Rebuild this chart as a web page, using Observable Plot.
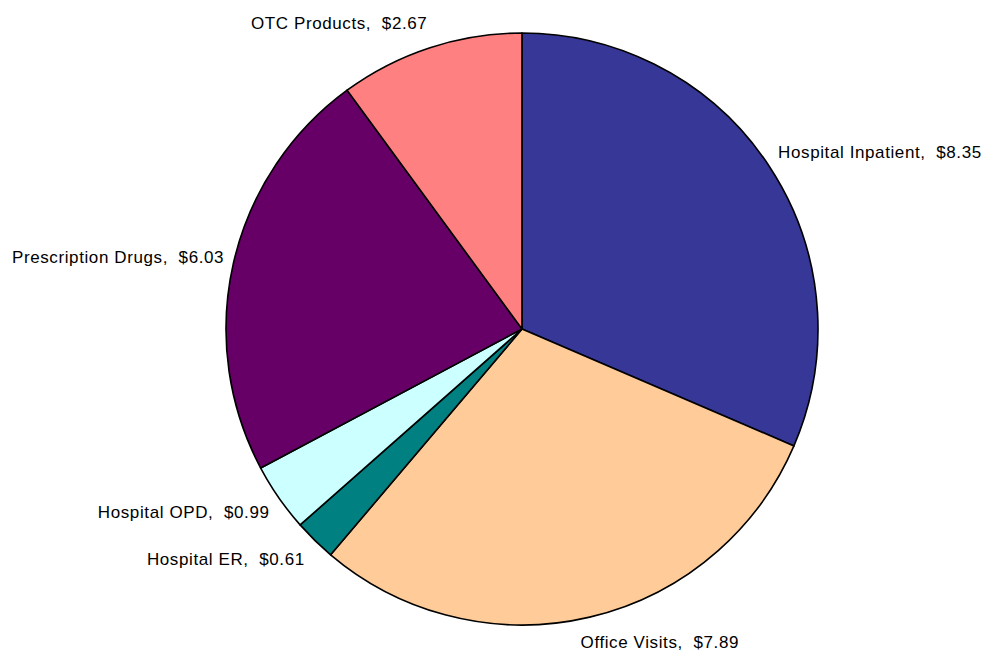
<!DOCTYPE html>
<html>
<head>
<meta charset="utf-8">
<script src="https://cdn.jsdelivr.net/npm/d3@7"></script>
<script src="https://cdn.jsdelivr.net/npm/@observablehq/plot@0.6"></script>
<style>
  html, body { margin: 0; padding: 0; background: #fff; }
  #chart svg text { letter-spacing: 0.6px; }
</style>
</head>
<body>
<div id="chart"></div>
<script>
const categories = ["Hospital Inpatient", "Office Visits", "Hospital ER", "Hospital OPD", "Prescription Drugs", "OTC Products"];
const values = [8.35, 7.89, 0.61, 0.99, 6.03, 2.67];
const colors = ["#373797", "#FFCC99", "#008080", "#CCFFFF", "#660066", "#FF8080"];

const W = 985, H = 651;
const cx = 522, cy = 329, R = 296;

const pieGen = d3.pie().sort(null).value(d => d.value);
const data = categories.map((c, i) => ({category: c, value: values[i], color: colors[i]}));
const arcs = pieGen(data);
const slices = arcs.map(a => {
  const mid = (a.startAngle + a.endAngle) / 2;
  const s = Math.sin(mid), c = Math.cos(mid);
  return {
    ...a,
    label: `${a.data.category},\u00a0\u00a0$${a.data.value.toFixed(2)}`,
    lx: 1.034 * s - 0.045 * Math.pow(Math.max(0, -c), 4),
    ly: 1.088 * c,
    anchor: s >= 0 ? "start" : "end"
  };
});

const pieMark = (index, scales) => {
  const x0 = scales.x(0), y0 = scales.y(0);
  const r = scales.x(1) - scales.x(0);
  const arcGen = d3.arc().innerRadius(0).outerRadius(r);
  const g = d3.create("svg:g").attr("transform", `translate(${x0},${y0})`);
  g.selectAll("path").data(slices).join("path")
    .attr("d", d => arcGen(d))
    .attr("fill", d => d.data.color)
    .attr("stroke", "#000")
    .attr("stroke-width", 1.6)
    .attr("stroke-linejoin", "round");
  return g.node();
};

const plot = Plot.plot({
  width: W,
  height: H,
  margin: 0,
  x: {domain: [-cx / R, (W - cx) / R], axis: null},
  y: {domain: [-(H - cy) / R, cy / R], axis: null},
  style: {fontFamily: "Liberation Sans, Arial, sans-serif", background: "#fff"},
  marks: [
    pieMark,
    Plot.text(slices.filter(d => d.anchor === "start"), {x: "lx", y: "ly", text: "label", textAnchor: "start", fontSize: 17, fill: "#000"}),
    Plot.text(slices.filter(d => d.anchor === "end"), {x: "lx", y: "ly", text: "label", textAnchor: "end", fontSize: 17, fill: "#000"})
  ]
});
document.getElementById("chart").appendChild(plot);
</script>
</body>
</html>
